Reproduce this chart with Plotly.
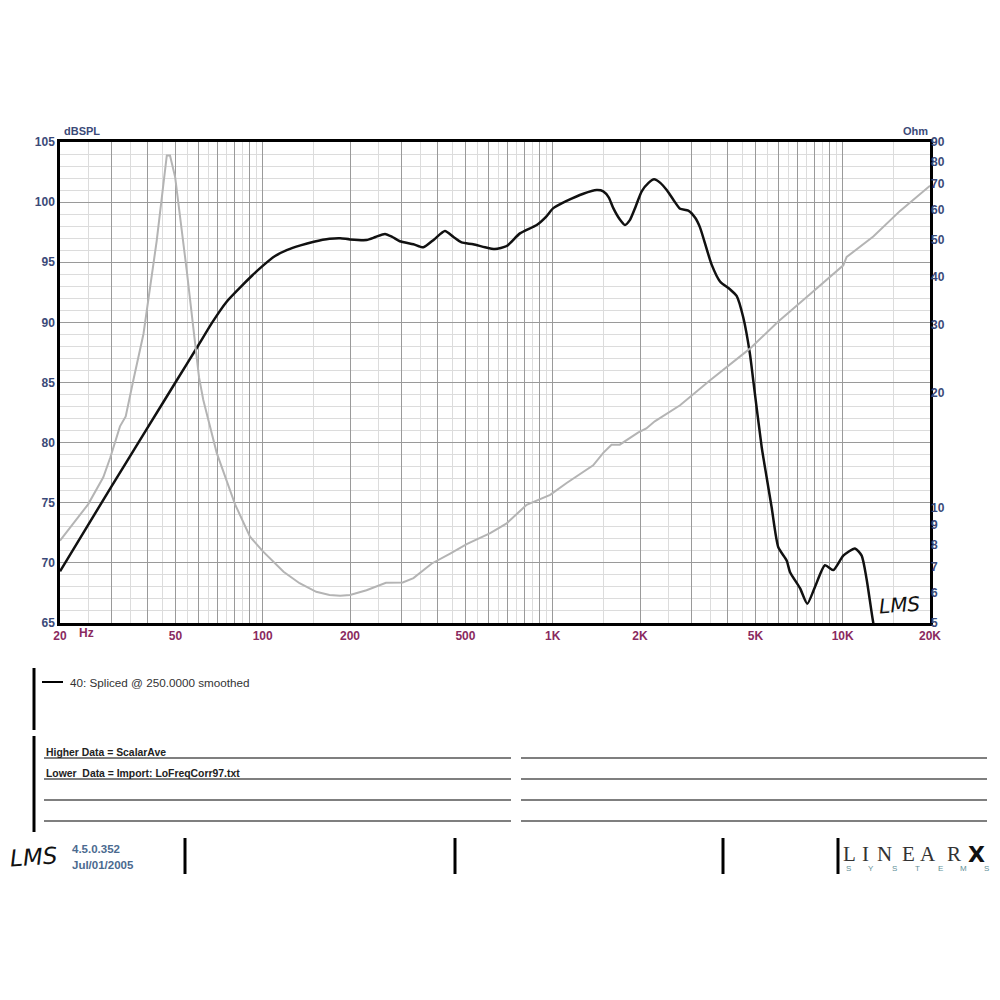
import plotly.graph_objects as go

# respuesta SPL (dB) - curva negra
spl_freq = [20, 30, 40, 50, 60, 67, 75, 84, 92, 100, 110, 121, 135, 150, 170, 185,
            200, 228, 245, 264, 280, 297, 331, 358, 390, 425, 455, 485, 532, 584,
            632, 694, 771, 881, 950, 1005, 1117, 1275, 1418, 1494, 1560, 1618, 1700,
            1775, 1845, 1930, 2027, 2140, 2236, 2350, 2472, 2606, 2749, 2935, 3100,
            3220, 3533, 3775, 4083, 4307, 4541, 4786, 4920, 5257, 5469, 5690, 5997,
            6409, 6578, 7124, 7549, 8024, 8689, 9283, 10047, 11025, 11625, 12100,
            12750, 13300]
spl_db = [69.3, 76.3, 81.2, 85.0, 88.1, 90.0, 91.7, 92.95, 93.9, 94.7, 95.5, 96.0,
          96.4, 96.7, 96.95, 97.0, 96.9, 96.85, 97.1, 97.35, 97.1, 96.75, 96.5, 96.25,
          96.9, 97.6, 97.1, 96.65, 96.5, 96.25, 96.1, 96.35, 97.4, 98.1, 98.8, 99.5,
          100.1, 100.7, 101.0, 100.9, 100.4, 99.5, 98.6, 98.1, 98.5, 99.6, 100.9,
          101.6, 101.9, 101.6, 101.0, 100.2, 99.45, 99.3, 98.7, 97.9, 94.8, 93.4,
          92.75, 92.2, 90.4, 87.4, 85.1, 79.6, 77.1, 74.6, 71.3, 70.2, 69.25, 67.9,
          66.6, 68.0, 69.8, 69.4, 70.6, 71.2, 70.6, 68.6, 65.0, 63.0]

# impedancia (Ohm) - curva gris
imp_freq = [20, 22.8, 25, 28.2, 29.8, 32.2, 33.7, 35.8, 38.8, 43.1, 46.7, 47.9, 49.9,
            54.7, 60.3, 62.4, 69.4, 80.3, 90.4, 100, 118, 134, 153, 170, 185, 200,
            228, 266, 304, 331, 383, 443, 505, 609, 694, 813, 980, 1117, 1379, 1494,
            1595, 1703, 1968, 2103, 2249, 2749, 3490, 4786, 5997, 7693, 10047, 10320,
            12750, 15770, 20000]
imp_ohm = [8.2, 9.3, 10.2, 12.0, 13.5, 16.3, 17.3, 21.5, 28.4, 49.7, 83.0, 83.0, 72.9,
           41.6, 21.9, 19.1, 13.9, 10.2, 8.4, 7.7, 6.8, 6.35, 6.03, 5.92, 5.89, 5.92,
           6.09, 6.37, 6.38, 6.55, 7.15, 7.59, 8.03, 8.58, 9.1, 10.17, 10.8, 11.6,
           12.9, 13.9, 14.6, 14.6, 15.7, 16.1, 16.8, 18.5, 21.5, 26.0, 30.6, 36.0,
           42.9, 45.1, 51.0, 59.5, 69.2]

# rejilla y etiquetas
x_major = [20, 30, 40, 50, 60, 70, 80, 90, 100, 200, 300, 400, 500, 600, 700, 800,
           900, 1000, 2000, 3000, 4000, 5000, 6000, 7000, 8000, 9000, 10000, 20000]
x_minor = [25, 35, 45, 55, 65, 75, 85, 95, 150, 250, 350, 450, 550, 650, 750, 850,
           950, 1500, 2500, 3500, 4500, 5500, 6500, 7500, 8500, 9500, 15000]
x_labels = {20: "20", 50: "50", 100: "100", 200: "200", 500: "500", 1000: "1K",
            2000: "2K", 5000: "5K", 10000: "10K", 20000: "20K"}
y_ticks = [65, 70, 75, 80, 85, 90, 95, 100, 105]
ohm_ticks = [5, 6, 7, 8, 9, 10, 20, 30, 40, 50, 60, 70, 80, 90]

AZUL = "#3b4a78"
GRANATE = "#8a2a60"
FUENTE = "Liberation Sans"


def px(x):
    return (x - 60) / 870


def py(y):
    return (623 - y) / 481


fig = go.Figure()

fig.add_trace(go.Scatter(
    x=imp_freq, y=imp_ohm, yaxis="y2", mode="lines",
    line=dict(color="#b4b4b4", width=2), name="Ohm", hoverinfo="x+y"
))
fig.add_trace(go.Scatter(
    x=spl_freq, y=spl_db, mode="lines",
    line=dict(color="#111111", width=2.5, shape="spline", smoothing=0.6),
    name="40: Spliced @ 250.0000 smoothed"
))

shapes = []
annotations = []


def linea(x0, y0, x1, y1, color="black", width=3):
    shapes.append(dict(type="line", xref="paper", yref="paper",
                       x0=px(x0), y0=py(y0), x1=px(x1), y1=py(y1),
                       line=dict(color=color, width=width)))


def texto(x, y, t, size=11, color="#333333", xanchor="left", family=FUENTE, **kw):
    annotations.append(dict(xref="paper", yref="paper", x=px(x), y=py(y), text=t,
                            showarrow=False, xanchor=xanchor, yanchor="middle",
                            font=dict(size=size, color=color, family=family), **kw))


# titulos de ejes y "Hz"
texto(62, 131, "<b>dBSPL</b>", size=11, color=AZUL)
texto(930, 131, "<b>Ohm</b>", size=11, color=AZUL, xanchor="right")
texto(77, 633, "<b>Hz</b>", size=12, color=GRANATE)
texto(899, 605, "<i>LMS</i>", size=20, color="#111111", xanchor="center",
      family="DejaVu Sans", textangle=-4)

# leyenda
linea(34, 668, 34, 730)
linea(42, 682, 63, 682, width=2)
texto(68, 682, "40: Spliced @ 250.0000 smoothed", size=11.7, color="#333333")

# bloque de notas
linea(34, 736, 34, 832)
for yy in [758, 779, 800, 821]:
    linea(44, yy, 511, yy, color="#555555", width=1.5)
    linea(521, yy, 987, yy, color="#555555", width=1.5)
texto(44, 752, "<b>Higher Data = ScalarAve</b>", size=10.4, color="#222222")
texto(44, 773, "<b>Lower  Data = Import: LoFreqCorr97.txt</b>", size=10.4,
      color="#222222")

# pie
for xx in [185, 455, 723, 838]:
    linea(xx, 838, xx, 874)
texto(33, 857, "<i>LMS</i>", size=23, color="#111111", xanchor="center",
      family="DejaVu Sans", textangle=-4)
texto(70, 849, "<b>4.5.0.352</b>", size=11.5, color="#4b6a8f")
texto(70, 865, "<b>Jul/01/2005</b>", size=11.5, color="#4b6a8f")
for letra, xx in zip("LINEAR", [849, 865, 884, 908, 928, 954]):
    texto(xx, 854, letra, size=21, color="#333333", xanchor="center",
          family="Liberation Serif")
texto(977, 854, "<b>X</b>", size=22, color="#111111", xanchor="center",
      family="DejaVu Sans")
for i, letra in enumerate("SYSTEMS"):
    texto(848 + i * 23, 868, letra, size=8, color="#5f8f98", xanchor="center")

fig.update_layout(
    width=1000, height=1000, autosize=False,
    margin=dict(l=52, r=78, t=134, b=385),
    plot_bgcolor="white", paper_bgcolor="white",
    showlegend=False,
    font=dict(family=FUENTE, size=12),
    xaxis=dict(
        type="log", range=[1.30103, 4.30103],
        tickmode="array", tickvals=x_major,
        ticktext=[x_labels.get(f, "") for f in x_major],
        tickfont=dict(color=GRANATE, size=12, weight="bold"),
        showgrid=True, gridcolor="#9a9a9a", gridwidth=1,
        minor=dict(tickmode="array", tickvals=x_minor, showgrid=True,
                   gridcolor="#dcdcdc", gridwidth=1),
        showline=True, linecolor="black", linewidth=2.5, mirror=True,
        ticks="", zeroline=False,
    ),
    yaxis=dict(
        range=[65, 105], tickmode="array", tickvals=y_ticks,
        tickfont=dict(color=AZUL, size=12, weight="bold"),
        showgrid=True, gridcolor="#9a9a9a", gridwidth=1,
        minor=dict(dtick=1, showgrid=True, gridcolor="#dcdcdc", gridwidth=1),
        showline=True, linecolor="black", linewidth=2.5, mirror=True,
        ticks="", zeroline=False,
    ),
    yaxis2=dict(
        type="log", range=[0.69897, 1.95424], overlaying="y", side="right",
        tickmode="array", tickvals=ohm_ticks,
        tickfont=dict(color=AZUL, size=12, weight="bold"),
        showgrid=False, ticks="", zeroline=False,
    ),
    shapes=shapes,
    annotations=annotations,
)

fig.write_html("out.html")
